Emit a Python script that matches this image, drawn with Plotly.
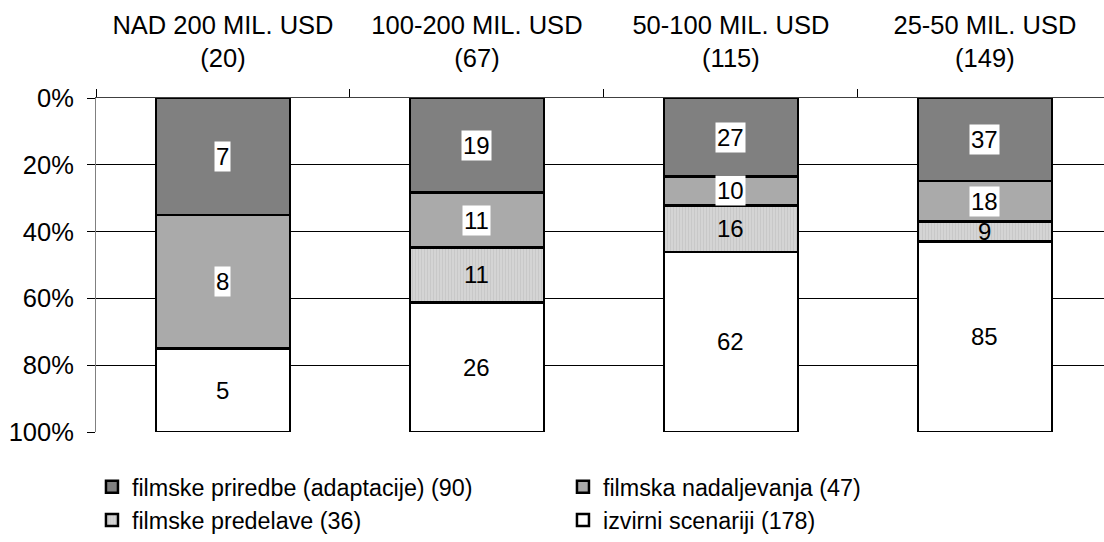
import plotly.graph_objects as go

# Budget classes (number of films in each class)
categories = ["NAD 200 MIL. USD<br>(20)", "100-200 MIL. USD<br>(67)",
              "50-100 MIL. USD<br>(115)", "25-50 MIL. USD<br>(149)"]

adaptacije = [7, 19, 27, 37]
nadaljevanja = [8, 11, 10, 18]
predelave = [0, 11, 16, 9]
izvirni = [5, 26, 62, 85]

pct_ticks = [0, 20, 40, 60, 80, 100]
pct_labels = ["0%", "20%", "40%", "60%", "80%", "100%"]

series = [
    ("filmske priredbe (adaptacije) (90)", adaptacije, "#808080", True),
    ("filmska nadaljevanja (47)", nadaljevanja, "#aaaaaa", True),
    ("filmske predelave (36)", predelave, "#d4d4d4", False),
    ("izvirni scenariji (178)", izvirni, "#ffffff", False),
]

FONT = "Liberation Sans, Arial, sans-serif"

fig = go.Figure()
for name, vals, color, boxed in series:
    marker = dict(color=color, line=dict(color="black", width=2.5))
    if name.startswith("filmske predelave"):
        marker["pattern"] = dict(shape="|", size=3, solidity=0.25,
                                 fgcolor="#c4c4c4", bgcolor=color,
                                 fillmode="replace")
    fig.add_trace(go.Bar(x=categories, y=vals, name=name, marker=marker))

# Value labels centred in each segment
totals = [sum(s[1][i] for s in series) for i in range(len(categories))]
for i, cat in enumerate(categories):
    cum = 0
    for name, vals, color, boxed in series:
        v = vals[i]
        if v:
            mid = (cum + v / 2) / totals[i] * 100
            fig.add_annotation(
                x=cat, y=mid, text=str(v), showarrow=False,
                font=dict(family=FONT, size=24, color="black"),
                bgcolor="white" if boxed else "rgba(0,0,0,0)",
                borderpad=1,
            )
        cum += v

fig.update_layout(
    barmode="stack",
    barnorm="percent",
    bargap=0.472,
    width=1104, height=542,
    margin=dict(l=96, r=0, t=98, b=105),
    paper_bgcolor="white", plot_bgcolor="white",
    font=dict(family=FONT, size=23, color="black"),
    legend=dict(orientation="h", x=-0.004, y=-0.1, xanchor="left",
                yanchor="top", entrywidth=426, entrywidthmode="pixels",
                font=dict(size=23.3), traceorder="normal",
                itemwidth=30, tracegroupgap=0),
    showlegend=True,
)
fig.update_xaxes(
    side="top", type="category", range=[-0.5, 3.469],
    tickson="boundaries", ticks="outside", ticklen=8, tickcolor="black",
    showline=True, linecolor="#404040", linewidth=1,
    showgrid=False, tickfont=dict(size=25.5), ticklabelstandoff=20,
)
fig.update_yaxes(
    range=[100, 0], tickmode="array", tickvals=pct_ticks, ticktext=pct_labels,
    ticks="outside", ticklen=8, tickcolor="black",
    showline=True, linecolor="#808080", linewidth=1,
    showgrid=True, gridcolor="black", gridwidth=1,
    zeroline=False, tickfont=dict(size=25.5), ticklabelstandoff=8,
)

fig.write_html("out.html")
